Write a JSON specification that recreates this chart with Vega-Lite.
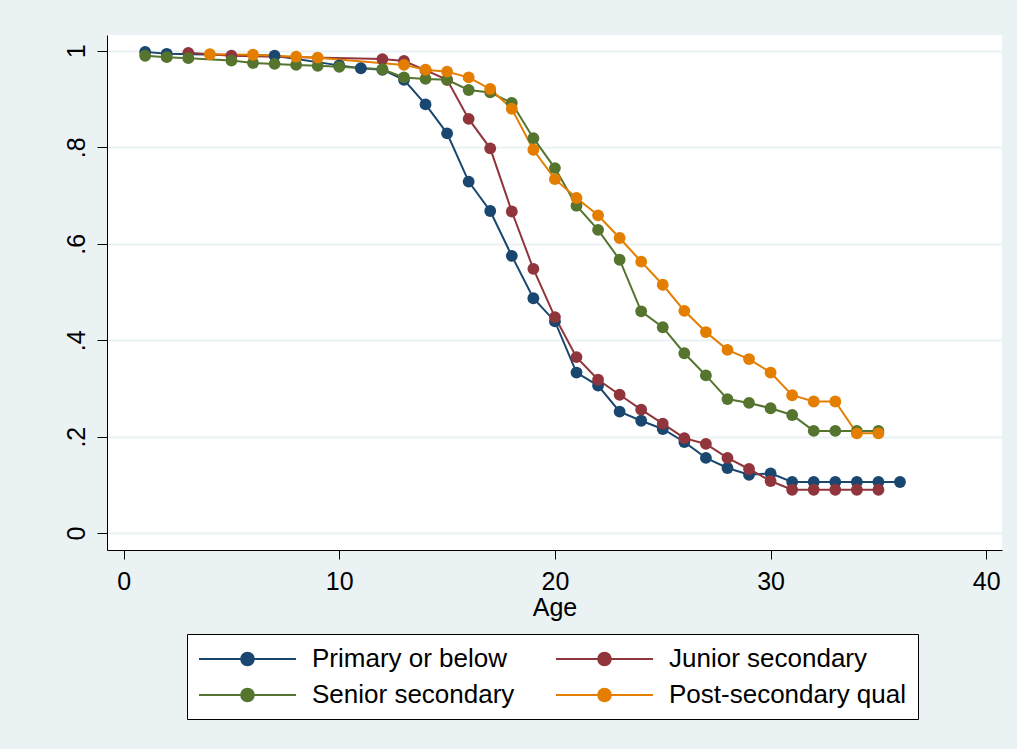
{
  "$schema": "https://vega.github.io/schema/vega-lite/v6.json",
  "width": 895,
  "height": 515,
  "autosize": "none",
  "padding": {"left": 107, "top": 35, "right": 15, "bottom": 199},
  "background": "#EAF2F3",
  "view": {"fill": "white", "stroke": null},
  "config": {"font": "Liberation Sans"},
  "data": {"values": [
    {"group": "Primary or below", "age": 1, "s": 0.998},
    {"group": "Primary or below", "age": 2, "s": 0.994},
    {"group": "Primary or below", "age": 7, "s": 0.990},
    {"group": "Primary or below", "age": 10, "s": 0.970},
    {"group": "Primary or below", "age": 11, "s": 0.964},
    {"group": "Primary or below", "age": 12, "s": 0.961},
    {"group": "Primary or below", "age": 13, "s": 0.940},
    {"group": "Primary or below", "age": 14, "s": 0.889},
    {"group": "Primary or below", "age": 15, "s": 0.829},
    {"group": "Primary or below", "age": 16, "s": 0.729},
    {"group": "Primary or below", "age": 17, "s": 0.668},
    {"group": "Primary or below", "age": 18, "s": 0.575},
    {"group": "Primary or below", "age": 19, "s": 0.487},
    {"group": "Primary or below", "age": 20, "s": 0.439},
    {"group": "Primary or below", "age": 21, "s": 0.333},
    {"group": "Primary or below", "age": 22, "s": 0.306},
    {"group": "Primary or below", "age": 23, "s": 0.252},
    {"group": "Primary or below", "age": 24, "s": 0.233},
    {"group": "Primary or below", "age": 25, "s": 0.216},
    {"group": "Primary or below", "age": 26, "s": 0.189},
    {"group": "Primary or below", "age": 27, "s": 0.156},
    {"group": "Primary or below", "age": 28, "s": 0.135},
    {"group": "Primary or below", "age": 29, "s": 0.121},
    {"group": "Primary or below", "age": 30, "s": 0.124},
    {"group": "Primary or below", "age": 31, "s": 0.106},
    {"group": "Primary or below", "age": 32, "s": 0.106},
    {"group": "Primary or below", "age": 33, "s": 0.106},
    {"group": "Primary or below", "age": 34, "s": 0.106},
    {"group": "Primary or below", "age": 35, "s": 0.106},
    {"group": "Primary or below", "age": 36, "s": 0.106},
    {"group": "Junior secondary", "age": 3, "s": 0.996},
    {"group": "Junior secondary", "age": 5, "s": 0.990},
    {"group": "Junior secondary", "age": 12, "s": 0.983},
    {"group": "Junior secondary", "age": 13, "s": 0.979},
    {"group": "Junior secondary", "age": 14, "s": 0.960},
    {"group": "Junior secondary", "age": 15, "s": 0.940},
    {"group": "Junior secondary", "age": 16, "s": 0.859},
    {"group": "Junior secondary", "age": 17, "s": 0.798},
    {"group": "Junior secondary", "age": 18, "s": 0.667},
    {"group": "Junior secondary", "age": 19, "s": 0.548},
    {"group": "Junior secondary", "age": 20, "s": 0.448},
    {"group": "Junior secondary", "age": 21, "s": 0.365},
    {"group": "Junior secondary", "age": 22, "s": 0.318},
    {"group": "Junior secondary", "age": 23, "s": 0.287},
    {"group": "Junior secondary", "age": 24, "s": 0.256},
    {"group": "Junior secondary", "age": 25, "s": 0.227},
    {"group": "Junior secondary", "age": 26, "s": 0.197},
    {"group": "Junior secondary", "age": 27, "s": 0.185},
    {"group": "Junior secondary", "age": 28, "s": 0.156},
    {"group": "Junior secondary", "age": 29, "s": 0.133},
    {"group": "Junior secondary", "age": 30, "s": 0.108},
    {"group": "Junior secondary", "age": 31, "s": 0.090},
    {"group": "Junior secondary", "age": 32, "s": 0.090},
    {"group": "Junior secondary", "age": 33, "s": 0.090},
    {"group": "Junior secondary", "age": 34, "s": 0.090},
    {"group": "Junior secondary", "age": 35, "s": 0.090},
    {"group": "Senior secondary", "age": 1, "s": 0.990},
    {"group": "Senior secondary", "age": 2, "s": 0.987},
    {"group": "Senior secondary", "age": 3, "s": 0.985},
    {"group": "Senior secondary", "age": 5, "s": 0.980},
    {"group": "Senior secondary", "age": 6, "s": 0.975},
    {"group": "Senior secondary", "age": 7, "s": 0.973},
    {"group": "Senior secondary", "age": 8, "s": 0.971},
    {"group": "Senior secondary", "age": 9, "s": 0.969},
    {"group": "Senior secondary", "age": 10, "s": 0.967},
    {"group": "Senior secondary", "age": 12, "s": 0.962},
    {"group": "Senior secondary", "age": 13, "s": 0.945},
    {"group": "Senior secondary", "age": 14, "s": 0.942},
    {"group": "Senior secondary", "age": 15, "s": 0.940},
    {"group": "Senior secondary", "age": 16, "s": 0.919},
    {"group": "Senior secondary", "age": 17, "s": 0.914},
    {"group": "Senior secondary", "age": 18, "s": 0.892},
    {"group": "Senior secondary", "age": 19, "s": 0.819},
    {"group": "Senior secondary", "age": 20, "s": 0.757},
    {"group": "Senior secondary", "age": 21, "s": 0.679},
    {"group": "Senior secondary", "age": 22, "s": 0.629},
    {"group": "Senior secondary", "age": 23, "s": 0.567},
    {"group": "Senior secondary", "age": 24, "s": 0.460},
    {"group": "Senior secondary", "age": 25, "s": 0.427},
    {"group": "Senior secondary", "age": 26, "s": 0.373},
    {"group": "Senior secondary", "age": 27, "s": 0.327},
    {"group": "Senior secondary", "age": 28, "s": 0.278},
    {"group": "Senior secondary", "age": 29, "s": 0.270},
    {"group": "Senior secondary", "age": 30, "s": 0.259},
    {"group": "Senior secondary", "age": 31, "s": 0.245},
    {"group": "Senior secondary", "age": 32, "s": 0.212},
    {"group": "Senior secondary", "age": 33, "s": 0.212},
    {"group": "Senior secondary", "age": 34, "s": 0.212},
    {"group": "Senior secondary", "age": 35, "s": 0.212},
    {"group": "Post-secondary qual", "age": 4, "s": 0.993},
    {"group": "Post-secondary qual", "age": 6, "s": 0.992},
    {"group": "Post-secondary qual", "age": 8, "s": 0.988},
    {"group": "Post-secondary qual", "age": 9, "s": 0.986},
    {"group": "Post-secondary qual", "age": 13, "s": 0.971},
    {"group": "Post-secondary qual", "age": 14, "s": 0.961},
    {"group": "Post-secondary qual", "age": 15, "s": 0.957},
    {"group": "Post-secondary qual", "age": 16, "s": 0.945},
    {"group": "Post-secondary qual", "age": 17, "s": 0.921},
    {"group": "Post-secondary qual", "age": 18, "s": 0.880},
    {"group": "Post-secondary qual", "age": 19, "s": 0.795},
    {"group": "Post-secondary qual", "age": 20, "s": 0.734},
    {"group": "Post-secondary qual", "age": 21, "s": 0.695},
    {"group": "Post-secondary qual", "age": 22, "s": 0.659},
    {"group": "Post-secondary qual", "age": 23, "s": 0.612},
    {"group": "Post-secondary qual", "age": 24, "s": 0.563},
    {"group": "Post-secondary qual", "age": 25, "s": 0.515},
    {"group": "Post-secondary qual", "age": 26, "s": 0.461},
    {"group": "Post-secondary qual", "age": 27, "s": 0.417},
    {"group": "Post-secondary qual", "age": 28, "s": 0.380},
    {"group": "Post-secondary qual", "age": 29, "s": 0.361},
    {"group": "Post-secondary qual", "age": 30, "s": 0.333},
    {"group": "Post-secondary qual", "age": 31, "s": 0.286},
    {"group": "Post-secondary qual", "age": 32, "s": 0.273},
    {"group": "Post-secondary qual", "age": 33, "s": 0.273},
    {"group": "Post-secondary qual", "age": 34, "s": 0.207},
    {"group": "Post-secondary qual", "age": 35, "s": 0.207}
  ]},
  "mark": {"type": "line", "strokeWidth": 2, "point": {"filled": true, "size": 140, "opacity": 1}},
  "encoding": {
    "x": {
      "field": "age", "type": "quantitative",
      "scale": {"domain": [-0.77, 40.73], "nice": false, "zero": false},
      "axis": {
        "values": [0, 10, 20, 30, 40], "title": "Age", "grid": false,
        "domainColor": "black", "tickColor": "black", "tickSize": 9,
        "labelFontSize": 25, "titleFontSize": 25, "titleFontWeight": "normal",
        "labelColor": "black", "titleColor": "black", "labelPadding": 10,
        "titlePadding": 1, "labelFlush": false
      }
    },
    "y": {
      "field": "s", "type": "quantitative",
      "scale": {"domain": [-0.035, 1.033], "nice": false, "zero": false},
      "axis": {
        "values": [0, 0.2, 0.4, 0.6, 0.8, 1], "title": null, "grid": true,
        "gridColor": "#EAF2F3", "gridWidth": 2,
        "domainColor": "black", "tickColor": "black", "tickSize": 10,
        "labelAngle": -90, "labelAlign": "center", "labelBaseline": "bottom",
        "labelFontSize": 25, "labelColor": "black", "labelPadding": 8, "labelFlush": false,
        "labelExpr": "datum.value == 0 ? '0' : datum.value == 1 ? '1' : replace(format(datum.value, '.1f'), '0.', '.')"
      }
    },
    "color": {
      "field": "group", "type": "nominal",
      "scale": {
        "domain": ["Primary or below", "Junior secondary", "Senior secondary", "Post-secondary qual"],
        "range": ["#1a476f", "#90353b", "#55752f", "#e37e00"]
      },
      "legend": {
        "orient": "none", "legendX": 80, "legendY": 599, "columns": 2, "direction": "horizontal",
        "title": null,
        "symbolType": "M-1,0L6.46,0M3.215,0A0.485,0.485,0,1,1,2.245,0A0.485,0.485,0,1,1,3.215,0Z",
        "symbolSize": 676, "symbolStrokeWidth": 2,
        "labelFontSize": 26, "labelColor": "black", "labelOffset": 86,
        "columnPadding": 37, "rowPadding": 9, "padding": 11,
        "fillColor": "white", "strokeColor": "black", "labelLimit": 400
      }
    }
  }
}
